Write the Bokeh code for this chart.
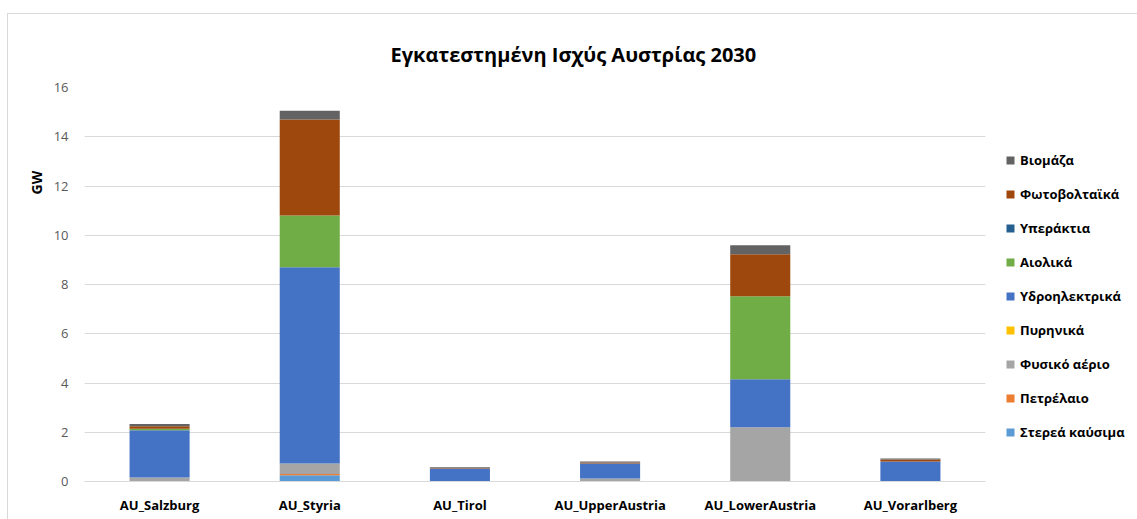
import math
from bokeh.plotting import figure
from bokeh.models import Legend, LegendItem, ColumnDataSource, Range1d, FactorRange, Title
from bokeh.embed import file_html
from bokeh.resources import INLINE

regions = ["AU_Salzburg", "AU_Styria", "AU_Tirol", "AU_UpperAustria", "AU_LowerAustria", "AU_Vorarlberg"]
series = ["Στερεά καύσιμα", "Πετρέλαιο", "Φυσικό αέριο", "Πυρηνικά", "Υδροηλεκτρικά",
          "Αιολικά", "Υπεράκτια", "Φωτοβολταϊκά", "Βιομάζα"]
colors = ["#5B9BD5", "#ED7D31", "#A5A5A5", "#FFC000", "#4472C4",
          "#70AD47", "#255E91", "#9E480E", "#636363"]

solid = [0.0, 0.25, 0.0, 0.0, 0.0, 0.0]
oil = [0.0, 0.05, 0.0, 0.0, 0.0, 0.0]
gas = [0.16, 0.43, 0.02, 0.12, 2.2, 0.02]
nuclear = [0.0, 0.0, 0.0, 0.0, 0.0, 0.0]
hydro = [1.92, 7.97, 0.50, 0.61, 1.95, 0.79]
wind = [0.06, 2.1, 0.0, 0.0, 3.37, 0.0]
offshore = [0.0, 0.0, 0.0, 0.0, 0.0, 0.0]
pv = [0.1, 3.9, 0.02, 0.04, 1.71, 0.08]
biomass = [0.1, 0.36, 0.04, 0.04, 0.36, 0.04]

values = [solid, oil, gas, nuclear, hydro, wind, offshore, pv, biomass]
data = {"region": regions}
for s, v in zip(series, values):
    data[s] = v
src = ColumnDataSource(data)

p = figure(x_range=FactorRange(*regions), y_range=Range1d(0, 16),
           frame_width=901, frame_height=394,
           output_backend="svg", toolbar_location=None,
           title="Εγκατεστημένη Ισχύς Αυστρίας 2030",
           min_border_left=76, min_border_top=73, min_border_bottom=38, min_border_right=142)
p.styles = {"margin-left": "7px", "margin-top": "13px",
            "border-left": "1px solid #D9D9D9", "border-top": "1px solid #D9D9D9"}

renderers = p.vbar_stack(series, x="region", width=0.4, color=colors, source=src,
                         line_color=None)

p.title.align = "left"
p.title.text_font = "Open Sans"
p.title.text_font_size = "20px"
p.title.text_font_style = "bold"
p.title.text_color = "#000000"
p.title.offset = 306
p.title.standoff = 39

p.xgrid.grid_line_color = None
p.ygrid.grid_line_color = "#D9D9D9"
p.ygrid.grid_line_width = 1
p.outline_line_color = None

p.yaxis.ticker = list(range(0, 17, 2))
p.yaxis.axis_line_color = None
p.yaxis.major_tick_line_color = None
p.yaxis.minor_tick_line_color = None
p.yaxis.major_label_text_font = "Open Sans"
p.yaxis.major_label_text_font_size = "13px"
p.yaxis.major_label_text_color = "#595959"
p.yaxis.major_label_standoff = 10

gw = Title(text="GW", align="left", offset=287, standoff=10,
           text_font="Open Sans", text_font_size="14px", text_font_style="bold",
           text_color="#000000")
p.add_layout(gw, "left")

p.xaxis.axis_line_color = "#D9D9D9"
p.xaxis.major_tick_line_color = None
p.xaxis.minor_tick_line_color = None
p.xaxis.major_label_text_font = "Open Sans"
p.xaxis.major_label_text_font_size = "13px"
p.xaxis.major_label_text_font_style = "bold"
p.xaxis.major_label_text_color = "#000000"
p.xaxis.major_label_standoff = 8

items = [LegendItem(label=s, renderers=[r]) for s, r in zip(series, renderers)]
items = items[::-1]
legend = Legend(items=items, location=(20, 39))
legend.label_text_font = "Open Sans"
legend.label_text_font_size = "13px"
legend.label_text_font_style = "bold"
legend.label_text_color = "#000000"
legend.glyph_width = 10
legend.glyph_height = 10
legend.label_height = 20
legend.spacing = 14
legend.padding = 0
legend.margin = 0
legend.border_line_color = None
legend.background_fill_alpha = 0
legend.label_standoff = 5
p.add_layout(legend, "right")

open("out.html", "w").write(file_html(p, INLINE))
